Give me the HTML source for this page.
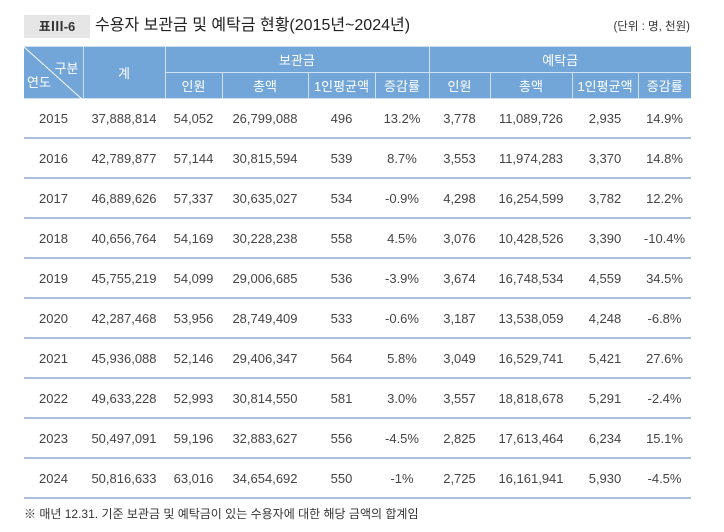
<!DOCTYPE html>
<html><head><meta charset="utf-8"><style>
body{margin:0;width:724px;height:532px;background:#fff;font-family:"Liberation Sans","Noto Sans CJK KR",sans-serif;color:#333;position:relative;overflow:hidden}
.tag{position:absolute;left:24px;top:15px;width:66px;height:23px;background:#e6e6e6;font-size:13px;font-weight:bold;line-height:23px;text-align:center;color:#333}
.title{position:absolute;left:95px;top:14px;font-size:16px;line-height:24px;color:#222}
.unit{position:absolute;right:34px;top:17px;font-size:11.5px;line-height:20px;color:#333}
table{position:absolute;left:24px;top:46px;border-collapse:collapse;table-layout:fixed}
th{background:#72a6d8;color:#fff;font-weight:normal;font-size:13px;border:1.5px solid #cfe0f2;height:24px;padding:0}
td{text-align:center;font-size:13px;height:38px;padding:0;border-bottom:2px solid #a9c1dd;color:#444}
.foot{position:absolute;left:24px;top:505px;font-size:12px;color:#333}
</style></head><body>
<div class="tag">표Ⅲ-6</div>
<div class="title">수용자 보관금 및 예탁금 현황(2015년~2024년)</div>
<div class="unit">(단위 : 명, 천원)</div>
<table>
<colgroup><col style="width:59px"><col style="width:82px"><col style="width:57px"><col style="width:86px"><col style="width:67px"><col style="width:54px"><col style="width:61px"><col style="width:82px"><col style="width:66px"><col style="width:53px"></colgroup>
<tr><th rowspan="2" style="position:relative;height:51px;border-left:none"><svg width="59" height="53" style="position:absolute;left:0;top:0"><line x1="0" y1="0" x2="59" y2="53" stroke="#fff" stroke-width="1"/></svg><span style="position:absolute;right:4px;top:11px">구분</span><span style="position:absolute;left:3px;top:25px">연도</span></th><th rowspan="2">계</th><th colspan="4">보관금</th><th colspan="4" style="border-right:none">예탁금</th></tr>
<tr><th>인원</th><th>총액</th><th>1인평균액</th><th>증감률</th><th>인원</th><th>총액</th><th>1인평균액</th><th style="border-right:none">증감률</th></tr>
<tr><td>2015</td><td>37,888,814</td><td>54,052</td><td>26,799,088</td><td>496</td><td>13.2%</td><td>3,778</td><td>11,089,726</td><td>2,935</td><td>14.9%</td></tr>
<tr><td>2016</td><td>42,789,877</td><td>57,144</td><td>30,815,594</td><td>539</td><td>8.7%</td><td>3,553</td><td>11,974,283</td><td>3,370</td><td>14.8%</td></tr>
<tr><td>2017</td><td>46,889,626</td><td>57,337</td><td>30,635,027</td><td>534</td><td>-0.9%</td><td>4,298</td><td>16,254,599</td><td>3,782</td><td>12.2%</td></tr>
<tr><td>2018</td><td>40,656,764</td><td>54,169</td><td>30,228,238</td><td>558</td><td>4.5%</td><td>3,076</td><td>10,428,526</td><td>3,390</td><td>-10.4%</td></tr>
<tr><td>2019</td><td>45,755,219</td><td>54,099</td><td>29,006,685</td><td>536</td><td>-3.9%</td><td>3,674</td><td>16,748,534</td><td>4,559</td><td>34.5%</td></tr>
<tr><td>2020</td><td>42,287,468</td><td>53,956</td><td>28,749,409</td><td>533</td><td>-0.6%</td><td>3,187</td><td>13,538,059</td><td>4,248</td><td>-6.8%</td></tr>
<tr><td>2021</td><td>45,936,088</td><td>52,146</td><td>29,406,347</td><td>564</td><td>5.8%</td><td>3,049</td><td>16,529,741</td><td>5,421</td><td>27.6%</td></tr>
<tr><td>2022</td><td>49,633,228</td><td>52,993</td><td>30,814,550</td><td>581</td><td>3.0%</td><td>3,557</td><td>18,818,678</td><td>5,291</td><td>-2.4%</td></tr>
<tr><td>2023</td><td>50,497,091</td><td>59,196</td><td>32,883,627</td><td>556</td><td>-4.5%</td><td>2,825</td><td>17,613,464</td><td>6,234</td><td>15.1%</td></tr>
<tr><td>2024</td><td>50,816,633</td><td>63,016</td><td>34,654,692</td><td>550</td><td>-1%</td><td>2,725</td><td>16,161,941</td><td>5,930</td><td>-4.5%</td></tr>
</table>
<div class="foot">※ 매년 12.31. 기준 보관금 및 예탁금이 있는 수용자에 대한 해당 금액의 합계임</div>
</body></html>
